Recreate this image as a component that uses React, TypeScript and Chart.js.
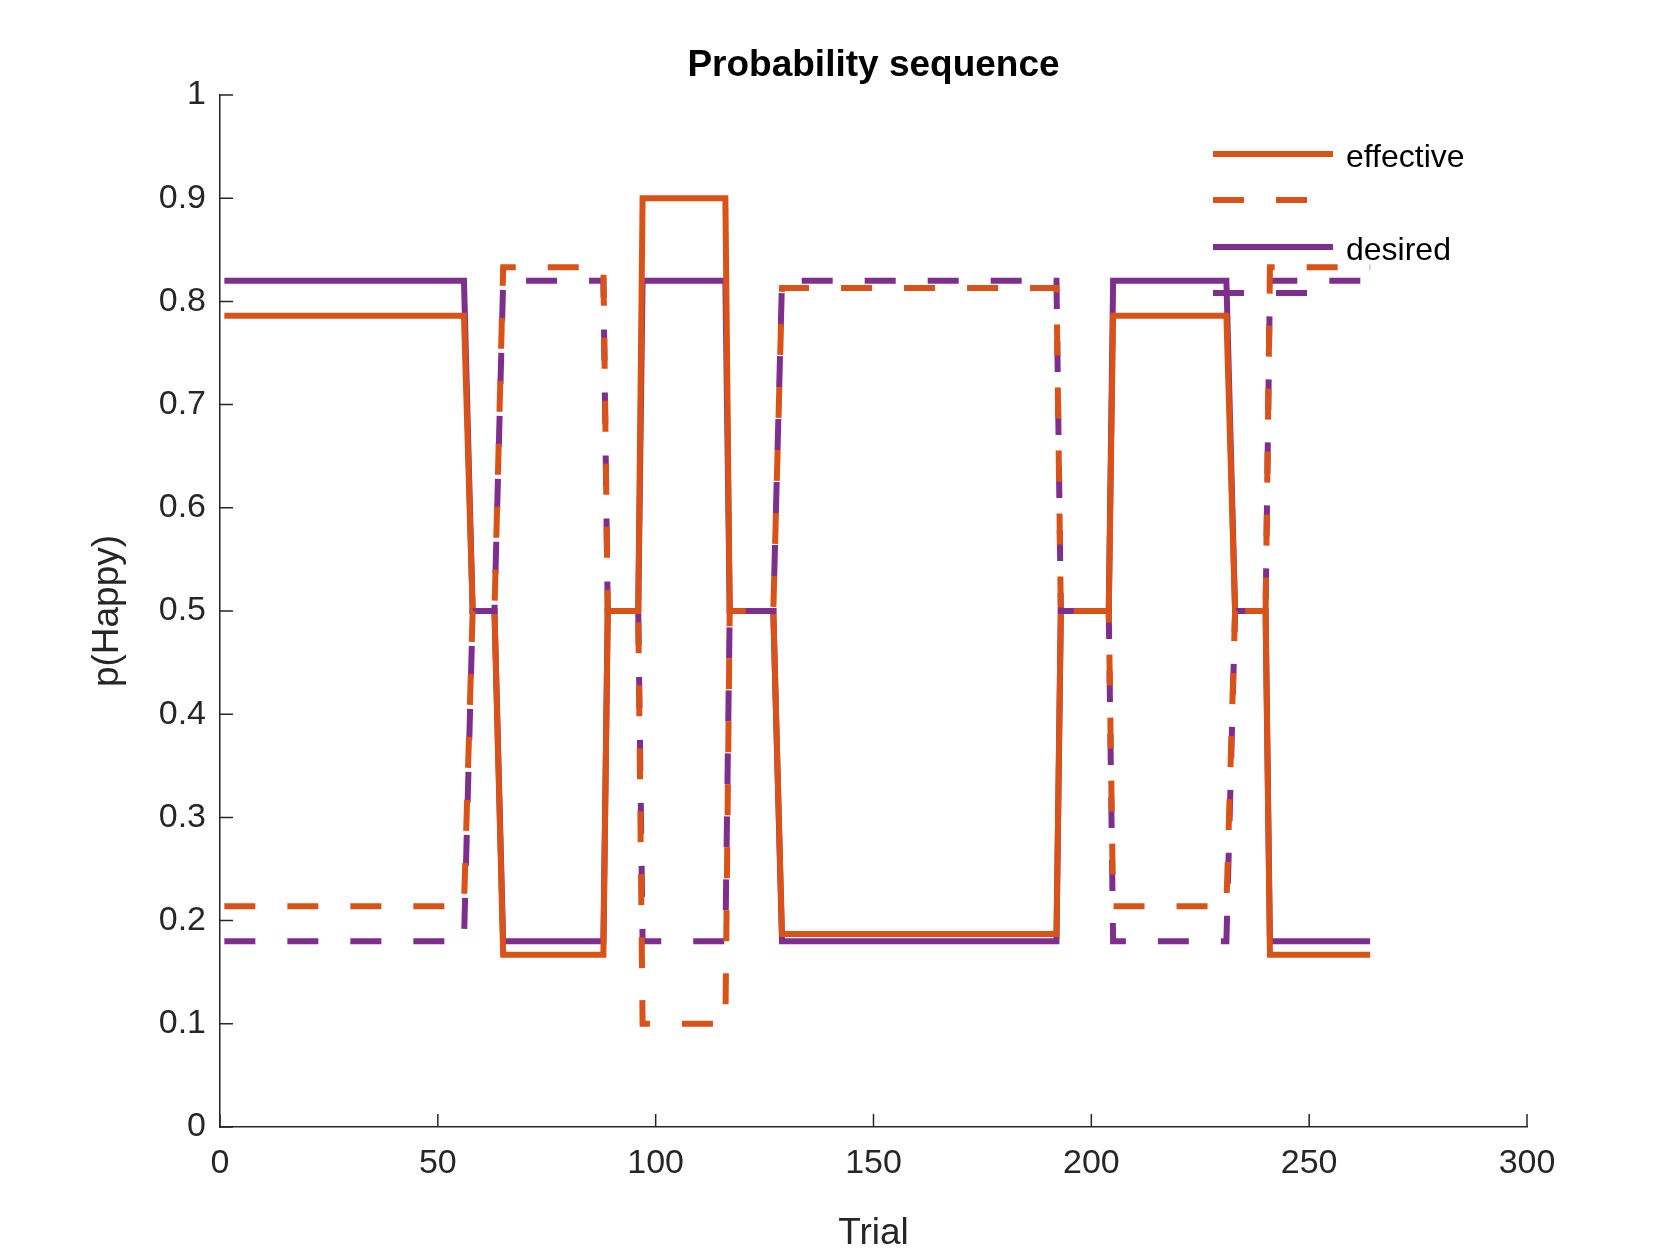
import { useEffect, useRef } from "react";
import { Chart, registerables } from "chart.js";

Chart.register(...registerables);

const ORANGE = "#D95319";
const PURPLE = "#7E2F8E";

// block boundaries (trial numbers): each value holds from start to end trial
const blockStarts = [1, 58, 65, 89, 97, 117, 129, 193, 205, 233, 241];
const blockEnds = [56, 63, 88, 96, 116, 127, 192, 204, 231, 240, 264];
const effectiveValues = [0.786, 0.5, 0.167, 0.5, 0.9, 0.5, 0.187, 0.5, 0.786, 0.5, 0.167];
const effectiveDashedValues = [0.214, 0.5, 0.833, 0.5, 0.1, 0.5, 0.813, 0.5, 0.214, 0.5, 0.833];
const desiredValues = [0.82, 0.5, 0.18, 0.5, 0.82, 0.5, 0.18, 0.5, 0.82, 0.5, 0.18];
const desiredDashedValues = [0.18, 0.5, 0.82, 0.5, 0.18, 0.5, 0.82, 0.5, 0.18, 0.5, 0.82];
const xTicks = [0, 50, 100, 150, 200, 250, 300];
const yTicks = [0, 0.1, 0.2, 0.3, 0.4, 0.5, 0.6, 0.7, 0.8, 0.9, 1];

const toPoints = (vals: number[]) =>
  vals.flatMap((v, i) => [
    { x: blockStarts[i], y: v },
    { x: blockEnds[i], y: v },
  ]);

const FONT = "Liberation Sans, Arial, sans-serif";

const decor = {
  id: "decor",
  afterDraw(chart: Chart) {
    const { ctx, chartArea: a, scales } = chart;
    const xs = scales.x;
    const ys = scales.y;
    ctx.save();
    ctx.strokeStyle = "#262626";
    ctx.lineWidth = 1.5;
    ctx.beginPath();
    yTicks.forEach((t) => {
      const y = ys.getPixelForValue(t);
      ctx.moveTo(a.left, y);
      ctx.lineTo(a.left + 13, y);
    });
    xTicks.forEach((t) => {
      const x = xs.getPixelForValue(t);
      ctx.moveTo(x, a.bottom);
      ctx.lineTo(x, a.bottom - 13);
    });
    ctx.stroke();
    // title
    ctx.fillStyle = "#000";
    ctx.font = `bold 37px ${FONT}`;
    ctx.textAlign = "center";
    ctx.textBaseline = "middle";
    ctx.fillText("Probability sequence", (a.left + a.right) / 2, 66);
    // legend
    const items = [
      { c: ORANGE, d: [], y: 154, t: "effective" },
      { c: ORANGE, d: [31, 32], y: 200, t: "" },
      { c: PURPLE, d: [], y: 247, t: "desired" },
      { c: PURPLE, d: [31, 32], y: 293, t: "" },
    ];
    ctx.textAlign = "left";
    ctx.font = `32px ${FONT}`;
    items.forEach((it) => {
      ctx.strokeStyle = it.c;
      ctx.lineWidth = 6;
      ctx.setLineDash(it.d);
      ctx.beginPath();
      ctx.moveTo(1213, it.y);
      ctx.lineTo(1333, it.y);
      ctx.stroke();
      if (it.t) {
        ctx.fillStyle = "#000";
        ctx.fillText(it.t, 1346, it.y + 4);
      }
    });
    ctx.restore();
  },
};

export default function App() {
  const ref = useRef<HTMLCanvasElement | null>(null);

  useEffect(() => {
    document.body.style.margin = "0";
    if (!ref.current) return;
    const ds = (label: string, vals: number[], color: string, dashed: boolean) => ({
      label,
      data: toPoints(vals),
      borderColor: color,
      backgroundColor: color,
      borderWidth: 6,
      borderDash: dashed ? [31, 32] : [],
      showLine: true,
      pointRadius: 0,
      tension: 0,
    });
    const chart = new Chart(ref.current, {
      type: "scatter",
      data: {
        datasets: [
          ds("effective (dashed)", effectiveDashedValues, ORANGE, true),
          ds("desired (dashed)", desiredDashedValues, PURPLE, true),
          ds("effective", effectiveValues, ORANGE, false),
          ds("desired", desiredValues, PURPLE, false),
        ],
      },
      options: {
        animation: false,
        responsive: false,
        layout: { padding: { top: 95, right: 153, left: 82, bottom: 0 } },
        plugins: { legend: { display: false }, title: { display: false }, tooltip: { enabled: false } },
        scales: {
          x: {
            type: "linear",
            min: 0,
            max: 300,
            afterFit: (s: any) => { s.height = 133; },
            afterBuildTicks: (s: any) => { s.ticks = xTicks.map((v) => ({ value: v })); },
            grid: { display: false, drawTicks: false },
            border: { display: true, color: "#262626", width: 1.5 },
            ticks: { color: "#262626", font: { family: FONT, size: 34 }, padding: 16 },
            title: { display: true, text: "Trial", color: "#262626", font: { family: FONT, size: 37 }, padding: { top: 0 } },
          },
          y: {
            type: "linear",
            min: 0,
            max: 1,
            afterFit: (s: any) => { s.width = 138; },
            afterBuildTicks: (s: any) => { s.ticks = yTicks.map((v) => ({ value: v })); },
            grid: { display: false, drawTicks: false },
            border: { display: true, color: "#262626", width: 1.5 },
            ticks: {
              color: "#262626",
              font: { family: FONT, size: 34 },
              padding: 14,
              callback: (v: any) => String(Math.round(Number(v) * 10) / 10),
            },
            title: { display: true, text: "p(Happy)", color: "#262626", font: { family: FONT, size: 37 }, padding: { bottom: 4 } },
          },
        },
      },
      plugins: [decor],
    });
    return () => chart.destroy();
  }, []);

  return <canvas ref={ref} width={1680} height={1260} style={{ display: "block" }} />;
}
